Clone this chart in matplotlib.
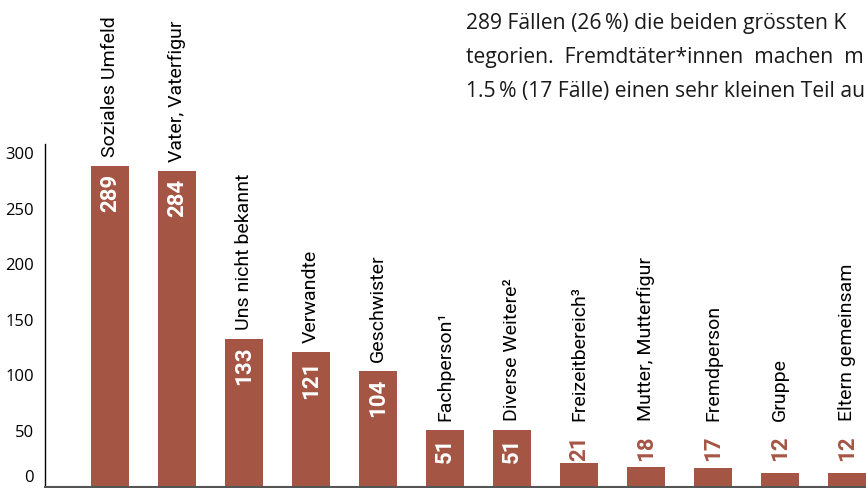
import matplotlib
matplotlib.use("Agg")
import matplotlib.pyplot as plt

categories = ["Soziales Umfeld", "Vater, Vaterfigur", "Uns nicht bekannt", "Verwandte",
              "Geschwister", "Fachperson\u00b9", "Diverse Weitere\u00b2", "Freizeitbereich\u00b3",
              "Mutter, Mutterfigur", "Fremdperson", "Gruppe", "Eltern gemeinsam"]
values = [289, 284, 133, 121, 104, 51, 51, 21, 18, 17, 12, 12]
yTicks = [0, 50, 100, 150, 200, 250, 300]
introLines = ["289 Fällen (26\u2009%) die beiden grössten K",
              "tegorien.  Fremdtäter*innen  machen  m",
              "1.5\u2009% (17 Fälle) einen sehr kleinen Teil au"]

barColor = "#a55544"
wideFont = ["Open Sans", "DejaVu Sans"]
narrowFont = ["Roboto", "DejaVu Sans"]

W, H = 866, 488
fig = plt.figure(figsize=(W / 100, H / 100), dpi=100)
ax = fig.add_axes([45 / W, 1.5 / H, (W - 45) / W, 343 / H])

x = list(range(len(values)))
ax.bar(x, values, width=0.567, color=barColor, zorder=2)
ax.set_xlim(-0.97, 11.28)
ax.set_ylim(0, 309)

ax.set_yticks(yTicks)
ax.set_yticklabels([str(t) for t in yTicks], fontfamily=wideFont, fontsize=12)
ax.get_yticklabels()[0].set_va("bottom")
ax.tick_params(axis="y", length=0, pad=8)
ax.set_xticks([])
for side in ["top", "right"]:
    ax.spines[side].set_visible(False)
ax.spines["left"].set_color("black")
ax.spines["left"].set_linewidth(1.0)
ax.spines["bottom"].set_color("#555555")
ax.spines["bottom"].set_linewidth(1.5)

insideMin = 40
smallTop = max(v for v in values if v < insideMin)
labelFloor = min(v for v in values if v >= insideMin)

for i, v in enumerate(values):
    if v >= insideMin:
        ax.annotate(str(v), (i, v), xytext=(0, -8), textcoords="offset pixels",
                    rotation=90, ha="center", va="top", color="white",
                    fontweight="bold", fontsize=16, fontfamily=narrowFont)
    else:
        ax.annotate(str(v), (i, smallTop), xytext=(0, 2), textcoords="offset pixels",
                    rotation=90, ha="center", va="bottom", color=barColor,
                    fontweight="bold", fontsize=16, fontfamily=narrowFont)
    ax.annotate(categories[i], (i, max(v, labelFloor)), xytext=(0, 9),
                textcoords="offset pixels", rotation=90, ha="center", va="bottom",
                color="black", fontsize=14, fontfamily=narrowFont, annotation_clip=False)

baselines = [29, 63, 97]
for line, b in zip(introLines, baselines):
    fig.text(466 / W, 1 - b / H, line, ha="left", va="baseline",
             fontsize=15.2, fontfamily=wideFont, color="#1a1a1a")

fig.savefig("out.png", dpi=100)
